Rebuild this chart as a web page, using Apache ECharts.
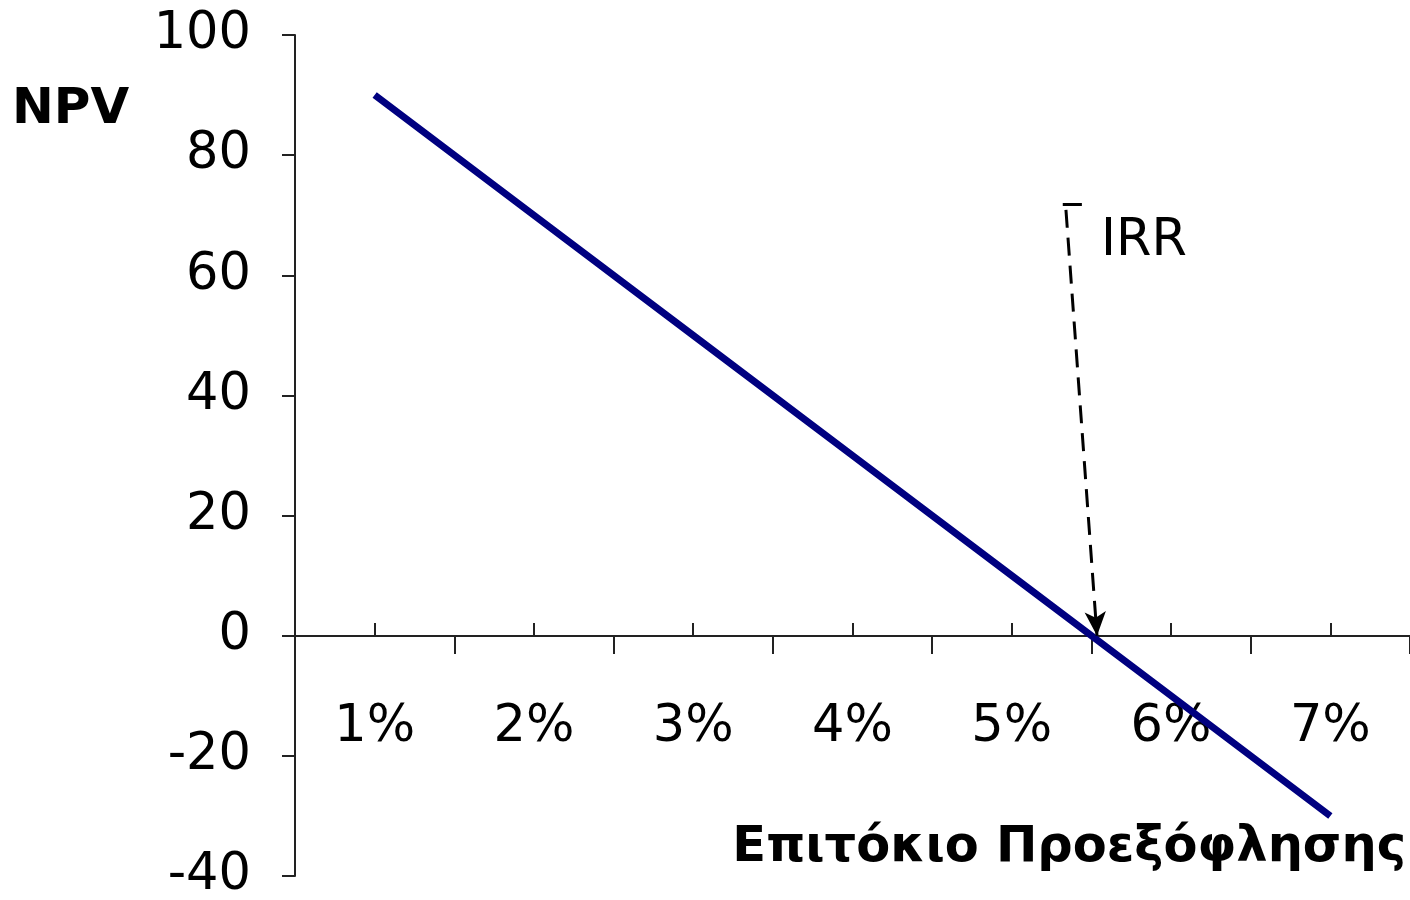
<!DOCTYPE html>
<html>
<head>
<meta charset="utf-8">
<script src="https://cdn.jsdelivr.net/npm/echarts@6/dist/echarts.min.js"></script>
<style>
html,body{margin:0;padding:0;background:#fff;}
#chart{width:1410px;height:900px;}
</style>
</head>
<body>
<div id="chart"></div>
<script>
const categories = ['1%', '2%', '3%', '4%', '5%', '6%', '7%'];
const npvValues = [90, 70, 50, 30, 10, -10, -30];
const yTicks = { min: -40, max: 100, interval: 20 };
const irrArrow = [[5.34, 70.9], [5.535, 0]];
const irrCap = [[5.32, 71.8], [5.44, 71.8]];
const irrLabel = [5.56, 65.5];
const yTitle = 'NPV';
const xTitle = 'Επιτόκιο Προεξόφλησης';

const FONT = 'DejaVu Sans';
const GRID = { left: 295, right: 0, top: 35, bottom: 24 };
const plotH = 900 - GRID.top - GRID.bottom;
// shift the x axis from the grid bottom up to the y = 0 line
const zeroOffset = -Math.round(plotH * (0 - yTicks.min) / (yTicks.max - yTicks.min));

const chart = echarts.init(document.getElementById('chart'));
chart.setOption({
  backgroundColor: '#fff',
  animation: false,
  title: {
    text: yTitle, left: 7, top: 80,
    textStyle: { fontFamily: FONT, fontSize: 50, fontWeight: 'bold', color: '#000' }
  },
  graphic: [{
    type: 'text', right: 4, top: 823,
    style: { text: xTitle, fontFamily: FONT, fontSize: 49.5, fontWeight: 'bold', fill: '#000' }
  }],
  grid: Object.assign({ containLabel: false, outerBoundsMode: 'none' }, GRID),
  xAxis: [{
    type: 'category', data: categories, boundaryGap: true, position: 'bottom', offset: zeroOffset,
    axisLine: { onZero: false, lineStyle: { color: '#222', width: 2 } },
    axisTick: { show: true, inside: false, length: 18, lineStyle: { color: '#222', width: 2 } },
    axisLabel: { fontFamily: FONT, fontSize: 51, color: '#000', margin: 66 },
    splitLine: { show: false }
  }, {
    type: 'category', data: categories, boundaryGap: true, position: 'bottom', offset: zeroOffset,
    axisLine: { show: false, onZero: false },
    axisTick: { show: true, inside: true, alignWithLabel: true, length: 13, lineStyle: { color: '#222', width: 2 } },
    axisLabel: { show: false },
    splitLine: { show: false }
  }, {
    type: 'value', min: 0.5, max: 7.5, show: false
  }],
  yAxis: {
    type: 'value', min: yTicks.min, max: yTicks.max, interval: yTicks.interval,
    axisLine: { show: true, onZero: false, lineStyle: { color: '#222', width: 2 } },
    axisTick: { show: true, inside: false, length: 13, lineStyle: { color: '#222', width: 2 } },
    axisLabel: { fontFamily: FONT, fontSize: 51, color: '#000', margin: 44, padding: [6, 0, 0, 0] },
    splitLine: { show: false }
  },
  series: [{
    type: 'line', xAxisIndex: 0, data: npvValues,
    symbol: 'none', lineStyle: { color: '#000080', width: 7 }, z: 3
  }, {
    type: 'line', xAxisIndex: 2, data: [],
    markLine: {
      silent: true, animation: false,
      label: { show: false },
      symbol: ['none', 'none'],
      lineStyle: { color: '#000', width: 3, type: [18, 10] },
      data: [
        [{ coord: irrArrow[0], symbol: 'none' }, { coord: irrArrow[1], symbol: 'arrow', symbolSize: [16, 24] }],
        [{ coord: irrCap[0] }, { coord: irrCap[1], lineStyle: { type: 'solid' } }]
      ]
    }
  }, {
    type: 'scatter', xAxisIndex: 2, data: [irrLabel], symbolSize: 0,
    itemStyle: { opacity: 1 },
    label: { show: true, formatter: 'IRR', position: 'right', distance: 0, fontFamily: FONT, fontSize: 51, color: '#000' }
  }]
});
</script>
</body>
</html>
